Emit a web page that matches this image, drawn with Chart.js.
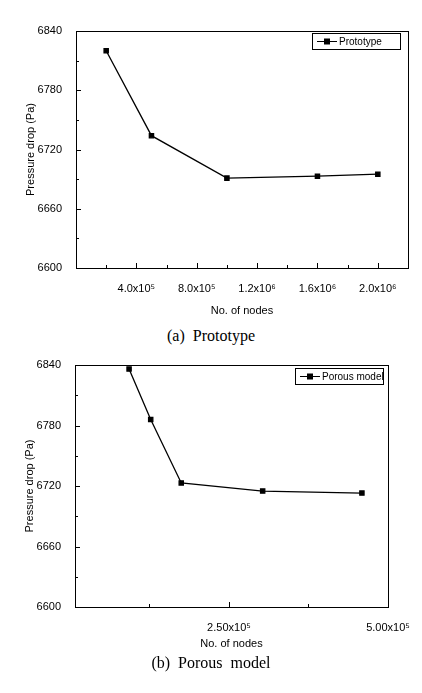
<!DOCTYPE html>
<html><head><meta charset="utf-8">
<script src="https://cdn.jsdelivr.net/npm/chart.js@4"></script>
<style>
body{margin:0;background:#fff;width:422px;height:693px;position:relative;overflow:hidden}
.c{position:absolute;left:0;width:422px}
.cap{position:absolute;width:422px;text-align:center;font-family:"Liberation Serif",serif;font-size:16px;color:#000}
</style></head><body>
<div class="c" style="top:0;height:322px"><canvas id="a"></canvas></div>
<div class="cap" style="top:327px">(a)&nbsp; Prototype</div>
<div class="c" style="top:345px;height:310px"><canvas id="b"></canvas></div>
<div class="cap" style="top:654px">(b)&nbsp; Porous&nbsp; model</div>
<script>
const protoNodes=[200000,500000,1000000,1600000,2000000];
const protoDrop=[6820,6734,6691,6693,6695];
const protoTicks={400000:"4.0x10⁵",800000:"8.0x10⁵",1200000:"1.2x10⁶",1600000:"1.6x10⁶",2000000:"2.0x10⁶"};
const porousNodes=[93000,127000,175000,303000,459000];
const porousDrop=[6836,6786,6723,6715,6713];
const porousTicks={250000:"2.50x10⁵",500000:"5.00x10⁵"};
const yTicks=[6600,6660,6720,6780,6840];

const frame={id:'frame',afterDraw(ch,args,o){
  const c=ch.ctx,a=ch.chartArea,x=ch.scales.x,y=ch.scales.y;
  c.save();c.strokeStyle='#000';c.lineWidth=1;
  c.strokeRect(a.left+0.5,a.top+0.5,a.right-a.left,a.bottom-a.top);
  c.beginPath();
  o.xMajor.forEach(v=>{const p=Math.round(x.getPixelForValue(v))+0.5;c.moveTo(p,a.bottom);c.lineTo(p,a.bottom-5);});
  o.xMinor.forEach(v=>{const p=Math.round(x.getPixelForValue(v))+0.5;c.moveTo(p,a.bottom);c.lineTo(p,a.bottom-3);});
  for(let v=6600;v<=6840;v+=30){const p=Math.round(y.getPixelForValue(v))+0.5;const L=(v%60==0)?5:3;c.moveTo(a.left,p);c.lineTo(a.left+L,p);}
  c.stroke();
  const lx=o.lx,ly=o.ly,w=o.lw,h=16;
  c.fillStyle='#fff';c.fillRect(lx,ly,w,h);
  c.strokeRect(lx+0.5,ly+0.5,w,h);
  c.beginPath();c.moveTo(lx+5,ly+8.5);c.lineTo(lx+25,ly+8.5);c.stroke();
  c.fillStyle='#000';c.fillRect(lx+12,ly+5.5,6,6);
  c.font='10px "Liberation Sans", Arial';c.textBaseline='middle';c.fillText(o.label,lx+27,ly+9);
  c.restore();
}};

function make(id,xs,ys,label,xmin,xmax,tickMap,major,minor,pad,xh,leg){
  new Chart(document.getElementById(id),{type:'line',
    data:{datasets:[{data:xs.map((v,i)=>({x:v,y:ys[i]})),borderColor:'#000',backgroundColor:'#000',borderWidth:1.3,
      pointStyle:'rect',pointRadius:3,pointHoverRadius:3,tension:0}]},
    options:{responsive:true,maintainAspectRatio:false,animation:false,
      layout:{padding:pad},
      plugins:{legend:{display:false},tooltip:{enabled:false},frame:{xMajor:major,xMinor:minor,label:label,lx:leg[0],ly:leg[1],lw:leg[2]}},
      scales:{
        x:{type:'linear',min:xmin,max:xmax,border:{display:false},grid:{display:false},
          afterBuildTicks(s){s.ticks=major.map(v=>({value:v}));},
          afterFit(s){s.height=xh;},
          ticks:{autoSkip:false,maxRotation:0,color:'#000',font:{family:'"Liberation Sans", Arial',size:11},padding:6,callback:v=>tickMap[v]||''},
          title:{display:true,text:'No. of nodes',color:'#000',font:{family:'"Liberation Sans", Arial',size:11},padding:{top:6}}},
        y:{min:6600,max:6840,border:{display:false},grid:{display:false},
          afterBuildTicks(s){s.ticks=yTicks.map(v=>({value:v}));},
          afterFit(s){s.width=56;},
          ticks:{color:'#000',font:{family:'"Liberation Sans", Arial',size:11},padding:6,callback:v=>String(v)},
          title:{display:true,text:'Pressure drop (Pa)',color:'#000',font:{family:'"Liberation Sans", Arial',size:11},padding:{bottom:4}}}
      }},
    plugins:[frame]});
}
make('a',protoNodes,protoDrop,'Prototype',0,2200000,protoTicks,[400000,800000,1200000,1600000,2000000],[200000,600000,1000000,1400000,1800000],{top:31,right:14,left:20,bottom:0},54,[312,33,88]);
make('b',porousNodes,porousDrop,'Porous model',8000,500000,porousTicks,[250000,500000],[125000,375000],{top:20,right:34,left:19,bottom:0},48,[295,23,88]);
</script></body></html>
